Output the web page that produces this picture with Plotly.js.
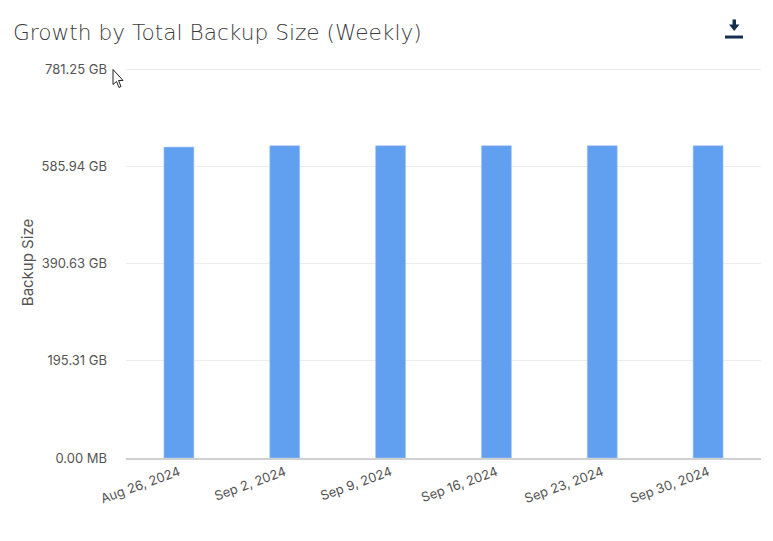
<!DOCTYPE html>
<html>
<head>
<meta charset="utf-8">
<title>Growth by Total Backup Size (Weekly)</title>
<script src="https://cdn.plot.ly/plotly-3.0.1.min.js"></script>
<style>
    html, body { margin: 0; padding: 0; background: #fff; }
    #chart { width: 773px; height: 541px; }
</style>
</head>
<body>
<div id="chart"></div>
<script>
"use strict";

const weeks = ["Aug 26, 2024", "Sep 2, 2024", "Sep 9, 2024", "Sep 16, 2024", "Sep 23, 2024", "Sep 30, 2024"];
const backupSizeGb = [624.4, 627.2, 627.2, 627.2, 627.2, 627.2];
const tickValues = [0, 195.31, 390.63, 585.94, 781.25];
const tickLabels = ["0.00 MB", "195.31 GB", "390.63 GB", "585.94 GB", "781.25 GB"];

const FONT = "Inter, 'Noto Sans', sans-serif";
const TEXT = "#555555";
const W = 773, H = 541;
const margin = { l: 126, r: 12, t: 66.5, b: 83 };

// page pixel -> paper fraction, for the things outside the axes
const px = (x) => (x - margin.l) / (W - margin.l - margin.r);
const py = (y) => (H - margin.b - y) / (H - margin.t - margin.b);
const path = (points) => "M" + points.map(([x, y]) => `${px(x)},${py(y)}`).join("L") + "Z";

const downloadArrow = [[732.5, 19], [736, 19], [736, 24], [739.5, 24], [734.2, 30.5], [729, 24], [732.5, 24]];
const downloadBar = [[725, 35], [743, 35], [743, 38], [725, 38]];
const cursor = [[113, 69], [113, 84], [116.5, 81], [119, 87], [121, 86], [118.5, 80], [123, 80]];

Plotly.newPlot(
    "chart",
    [{
        type: "bar",
        x: weeks,
        y: backupSizeGb,
        width: 0.283,
        marker: { color: "#619ff0", line: { color: "#a6c8f5", width: 0.6 } },
    }],
    {
        width: W,
        height: H,
        margin: margin,
        paper_bgcolor: "#fff",
        plot_bgcolor: "#fff",
        showlegend: false,
        font: { family: FONT, size: 13, color: TEXT },
        title: {
            text: "Growth by Total Backup Size (Weekly)",
            font: { family: "'DejaVu Sans', sans-serif", size: 21.7, color: "#3c3c3c", weight: 200 },
            x: 13 / W,
            xanchor: "left",
            y: 1 - 32 / H,
            yanchor: "middle",
        },
        xaxis: {
            type: "category",
            tickangle: -20,
            ticks: "",
            showgrid: false,
            showline: true,
            linecolor: "#d0d0d0",
            linewidth: 1.5,
            zeroline: false,
            tickfont: { family: FONT, size: 13, color: TEXT },
        },
        yaxis: {
            // a little headroom, plotly drops a grid line sitting on the range edge
            range: [0, 785.26],
            tickmode: "array",
            tickvals: tickValues,
            ticktext: tickLabels,
            ticks: "",
            ticklabelstandoff: 18,
            showline: false,
            zeroline: false,
            gridcolor: "#ececec",
            gridwidth: 1,
            tickfont: { family: FONT, size: 13, color: TEXT },
            title: { text: "Backup Size", standoff: 4, font: { family: FONT, size: 15, color: TEXT } },
        },
        shapes: [
            { type: "path", xref: "paper", yref: "paper", path: path(downloadArrow), fillcolor: "#12304d", line: { width: 0 } },
            { type: "path", xref: "paper", yref: "paper", path: path(downloadBar), fillcolor: "#12304d", line: { width: 0 } },
            { type: "path", xref: "paper", yref: "paper", path: path(cursor), fillcolor: "#fff", line: { color: "#222", width: 1 } },
        ],
    },
    { displayModeBar: false, responsive: false }
);
</script>
</body>
</html>
